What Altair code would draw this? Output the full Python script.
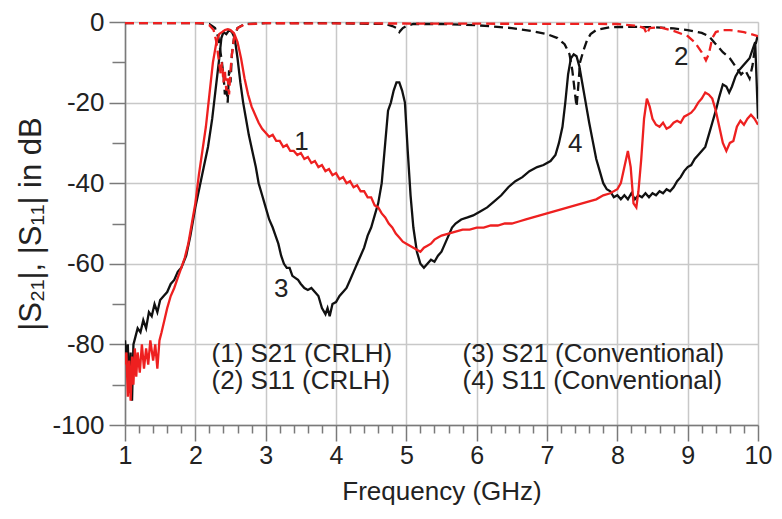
import altair as alt
import pandas as pd

# (3) S21 Conventional - black solid
f3 = [1.00, 1.02, 1.04, 1.06, 1.08, 1.10, 1.12, 1.15, 1.18, 1.22, 1.26, 1.30, 1.34, 1.38, 1.42, 1.46, 1.50,
      1.55, 1.60, 1.65, 1.70, 1.75, 1.80, 1.87, 1.93, 2.00, 2.06, 2.12, 2.18, 2.24, 2.30, 2.34, 2.37, 2.40,
      2.44, 2.48, 2.52, 2.56, 2.60, 2.64, 2.68, 2.72, 2.76, 2.81, 2.86, 2.90, 2.95, 3.00, 3.05, 3.10, 3.14,
      3.18, 3.22, 3.26, 3.30, 3.34, 3.38, 3.42, 3.46, 3.50, 3.55, 3.60, 3.65, 3.70, 3.75, 3.80, 3.85, 3.88,
      3.91, 3.95, 4.00, 4.05, 4.10, 4.15, 4.20, 4.25, 4.30, 4.35, 4.40, 4.45, 4.50, 4.55, 4.60, 4.65, 4.70,
      4.74, 4.78, 4.82, 4.86, 4.90, 4.94, 4.98, 5.02, 5.06, 5.10, 5.15, 5.20, 5.25, 5.30, 5.35, 5.40, 5.45,
      5.50, 5.55, 5.60, 5.65, 5.70, 5.78, 5.87, 5.95, 6.05, 6.15, 6.25, 6.35, 6.45, 6.55, 6.65, 6.75, 6.86,
      6.95, 7.05, 7.12, 7.17, 7.22, 7.26, 7.30, 7.34, 7.38, 7.42, 7.46, 7.50, 7.55, 7.60, 7.65, 7.70, 7.75,
      7.80, 7.85, 7.90, 7.95, 8.00, 8.05, 8.10, 8.15, 8.20, 8.25, 8.30, 8.35, 8.40, 8.45, 8.50, 8.55, 8.60,
      8.65, 8.70, 8.75, 8.80, 8.85, 8.90, 8.95, 9.00, 9.05, 9.10, 9.15, 9.20, 9.25, 9.30, 9.35, 9.40, 9.45,
      9.50, 9.55, 9.59, 9.63, 9.68, 9.73, 9.78, 9.83, 9.88, 9.92, 9.96, 10.00]
s3 = [-79, -84, -80, -92, -82, -94, -80, -78, -76, -77, -74, -76, -72, -73, -70, -72, -69,
      -68, -67, -65, -64, -62, -61, -58, -53, -46, -41, -36, -31, -24, -15, -9, -4, -2.5,
      -3, -2, -2.5, -4, -9, -15, -20, -24, -28, -32, -36, -40, -43, -46, -49, -51, -53,
      -55, -58, -60, -61, -61, -63, -63.5, -64, -65, -66, -66.5, -66, -67, -68, -71, -72.5, -71,
      -73, -70, -69.5, -68, -67, -66, -64, -62, -60, -58, -56, -53, -51, -48, -45, -40, -30,
      -22, -20, -17, -15, -15, -17, -20, -32, -43, -51, -57, -60, -61, -60, -59, -59.5, -58,
      -57, -55, -53, -51, -50, -49, -48.5, -48, -47, -46, -44.5, -43, -41, -39.5, -38.5, -37, -36,
      -35.5, -34.5, -33, -30, -26, -20, -13, -9, -8, -8.5, -11, -15, -20, -25, -29.5, -34, -37,
      -40, -41.5, -42, -43.5, -43, -44, -43, -44, -42.5, -44, -43, -43.5, -42.5, -43.5, -42.5, -43, -42,
      -42.5, -41.5, -42, -41, -39.5, -38.5, -37, -36, -35.5, -34, -33, -32, -31, -28, -25, -22, -18.5,
      -15.5, -16, -17.5, -16, -13.5, -12, -11, -10, -9, -7, -5, -24]

# (4) S11 Conventional - black dashed
f4 = [1.0, 2.0, 2.2, 2.28, 2.33, 2.37, 2.40, 2.42, 2.44, 2.46, 2.48, 2.50, 2.52, 2.55, 2.60, 2.7, 3.0,
      4.0, 4.7, 4.8, 4.86, 4.9, 4.95, 5.0, 5.1, 5.5, 6.0, 6.5, 6.8, 7.0, 7.15, 7.25, 7.32, 7.36, 7.40,
      7.42, 7.44, 7.47, 7.52, 7.57, 7.62, 7.7, 7.9, 8.2, 8.5, 8.8, 9.0, 9.2, 9.3, 9.4, 9.5, 9.6, 9.7,
      9.76, 9.82, 9.88, 9.92, 9.96, 10.0]
s4 = [-0.3, -0.3, -0.5, -1.5, -4, -9, -13, -18, -16, -20, -12, -15, -8, -4, -1.5, -0.5, -0.3,
      -0.3, -0.5, -1, -1.5, -2.5, -1.5, -1, -0.5, -0.5, -0.8, -1.5, -2.3, -3, -4, -5.5, -8, -12, -18,
      -21, -17, -10, -7, -4.5, -3, -2, -1.3, -1.2, -1.3, -1.6, -2, -2.7, -3.5, -5.5, -7.5, -9, -11.5,
      -13, -12, -14, -11, -6, -3]

# (1) S21 CRLH - red solid
f1 = [1.00, 1.02, 1.04, 1.06, 1.08, 1.10, 1.12, 1.14, 1.16, 1.18, 1.21, 1.24, 1.27, 1.30, 1.33, 1.36,
      1.40, 1.43, 1.46, 1.49, 1.52, 1.56, 1.60, 1.65, 1.70, 1.75, 1.80, 1.85, 1.90, 1.95, 2.00, 2.05,
      2.10, 2.15, 2.20, 2.25, 2.30, 2.34, 2.38, 2.42, 2.46, 2.50, 2.55, 2.60, 2.65, 2.70, 2.75, 2.80,
      2.85, 2.90, 2.95, 3.00, 3.05, 3.10, 3.15, 3.20, 3.25, 3.30, 3.35, 3.40, 3.45, 3.50, 3.55, 3.60,
      3.65, 3.70, 3.75, 3.80, 3.85, 3.90, 3.95, 4.00, 4.05, 4.10, 4.15, 4.20, 4.25, 4.30, 4.35, 4.40,
      4.45, 4.50, 4.55, 4.60, 4.65, 4.70, 4.75, 4.80, 4.85, 4.90, 4.95, 5.00, 5.05, 5.10, 5.15, 5.20,
      5.25, 5.30, 5.35, 5.40, 5.45, 5.50, 5.60, 5.70, 5.80, 5.90, 6.00, 6.10, 6.20, 6.30, 6.40, 6.50,
      6.60, 6.70, 6.80, 6.90, 7.00, 7.10, 7.20, 7.30, 7.40, 7.50, 7.60, 7.70, 7.80, 7.90, 8.00, 8.05,
      8.10, 8.15, 8.19, 8.23, 8.27, 8.30, 8.34, 8.38, 8.42, 8.46, 8.50, 8.55, 8.60, 8.65, 8.70, 8.75,
      8.80, 8.85, 8.90, 8.95, 9.00, 9.05, 9.10, 9.15, 9.20, 9.25, 9.30, 9.35, 9.40, 9.45, 9.50, 9.55,
      9.60, 9.65, 9.70, 9.75, 9.80, 9.85, 9.90, 9.95, 10.00]
s1 = [-85, -82, -93, -84, -94, -83, -90, -81, -88, -82, -87, -80, -86, -81, -85, -79,
      -84, -80, -86, -79, -77, -74, -71, -68, -66, -63.5, -61, -58.5, -55, -50, -45, -38,
      -32, -26, -18, -10, -5, -3, -2.5, -2, -1.8, -2, -2.8, -5, -9, -14, -18, -21,
      -23, -25, -26.5, -27.5, -28.5, -28, -29.5, -29.5, -31, -30.5, -32, -32, -33, -32.5, -34, -33.5,
      -35, -34.5, -36, -35.5, -37, -36.5, -38, -37.5, -39, -38.5, -40, -39.5, -41, -40.5, -42, -42,
      -43.5, -43.5, -45.5, -46, -47.5, -48.5, -50, -51, -52.5, -53.5, -54.5, -55, -55.5, -56, -56.5, -57,
      -56, -55.5, -55, -54, -53.5, -53, -52.5, -52, -51.5, -51.5, -51, -51, -50.5, -50.5, -50, -50,
      -49.5, -49, -48.5, -48, -47.5, -47, -46.5, -46, -45.5, -45, -44.5, -44, -43, -42.5, -41.5, -40,
      -36, -32, -36, -45, -46, -42, -34, -24, -19, -21, -24, -25.5, -26, -25, -26.5, -26,
      -25, -24.5, -25, -23.5, -23, -22.5, -21.5, -20, -19, -17.5, -18, -19, -22, -26, -30, -32,
      -30, -29.5, -26, -24.5, -25.5, -24, -23, -24, -25.5]

# (2) S11 CRLH - red dashed
f2 = [1.0, 2.1, 2.2, 2.26, 2.30, 2.33, 2.36, 2.38, 2.40, 2.42, 2.44, 2.46, 2.48, 2.50, 2.52, 2.55, 2.6,
      2.7, 3.0, 8.0, 8.3, 8.38, 8.42, 8.46, 8.6, 8.8, 9.0, 9.1, 9.2, 9.26, 9.30, 9.35, 9.40, 9.5, 9.6,
      9.8, 10.0]
s2 = [-0.3, -0.3, -0.8, -2, -5, -9, -13, -10, -15, -12, -17, -14, -18, -12, -8, -4, -1.5,
      -0.6, -0.3, -0.5, -1, -1.5, -3, -1.5, -1.3, -2.2, -3.5, -5, -7.5, -9.5, -8, -4, -2.5, -2, -2,
      -2.5, -3.5]

# annotations
num_labels = ["1", "2", "3", "4"]
num_x = [3.51, 8.91, 3.22, 7.40]
num_y = [-29.7, -8.7, -66.3, -30.2]

legend_text = ["(1) S21 (CRLH)", "(2) S11 (CRLH)", "(3) S21 (Conventional)", "(4) S11 (Conventional)"]
legend_x = [2.23, 2.23, 5.80, 5.80]
legend_y = [-82.4, -89.1, -82.4, -89.1]

x_major = [1, 2, 3, 4, 5, 6, 7, 8, 9, 10]
x_minor = [round(1 + 0.2 * i, 1) for i in range(46) if i % 5 != 0]
y_major = [-100, -80, -60, -40, -20, 0]
y_minor = [-90, -70, -50, -30, -10]

FONT = "Liberation Sans"
AX = "#7a7a7a"
xscale = alt.Scale(domain=[1, 10], nice=False, zero=False)
yscale = alt.Scale(domain=[-100, 0], nice=False, zero=False)

x_axis = alt.Axis(
    orient="bottom", values=x_major, labelExpr="'' + datum.value", tickSize=16,
    grid=True, gridColor="#c8c8c8", gridWidth=1.5,
    domainColor=AX, domainWidth=1.5, tickColor=AX, tickWidth=1.5,
    labelFont=FONT, labelFontSize=25, labelColor="#222", labelPadding=2, labelFlush=False,
    title="Frequency (GHz)", titleFont=FONT, titleFontSize=26, titleFontWeight="normal",
    titleColor="#222", titlePadding=10,
)
y_axis = alt.Axis(
    orient="left", values=y_major, labelExpr="'' + datum.value", tickSize=16,
    grid=True, gridColor="#c8c8c8", gridWidth=1.5,
    domainColor=AX, domainWidth=1.5, tickColor=AX, tickWidth=1.5,
    labelFont=FONT, labelFontSize=26, labelColor="#222", labelPadding=5, labelFlush=False,
    title="|S₂₁|, |S₁₁| in dB", titleFont=FONT, titleFontSize=31, titleFontWeight="normal",
    titleColor="#222", titlePadding=4,
)
x_axis_minor = alt.Axis(
    orient="bottom", values=x_minor, tickSize=8, labels=False, grid=False, domain=False,
    tickColor=AX, tickWidth=1.5, title=None,
)
y_axis_minor = alt.Axis(
    orient="left", values=y_minor, tickSize=13, labels=False, grid=False, domain=False,
    tickColor=AX, tickWidth=1.5, title=None,
)


def line(f, s, color, dash=None):
    df = pd.DataFrame({"f": f, "s": s})
    kw = dict(color=color, strokeWidth=2.3, clip=True, interpolate="linear")
    if dash:
        kw["strokeDash"] = dash
    return alt.Chart(df).mark_line(**kw).encode(
        x=alt.X("f:Q", scale=xscale, axis=None),
        y=alt.Y("s:Q", scale=yscale, axis=None),
    )


l3 = line(f3, s3, "#111111")
l4 = line(f4, s4, "#111111", [9, 5])
l1 = line(f1, s1, "#ee2020")
l2 = line(f2, s2, "#ee2020", [9, 5])

ann = alt.Chart(pd.DataFrame({"t": num_labels, "x": num_x, "y": num_y})).mark_text(
    font=FONT, fontSize=26, color="#222", align="center", baseline="middle"
).encode(
    x=alt.X("x:Q", scale=xscale, axis=x_axis),
    y=alt.Y("y:Q", scale=yscale, axis=y_axis),
    text="t:N",
)

leg = alt.Chart(pd.DataFrame({"t": legend_text, "x": legend_x, "y": legend_y})).mark_text(
    font=FONT, fontSize=26, color="#222", align="left", baseline="middle"
).encode(
    x=alt.X("x:Q", scale=xscale, axis=x_axis_minor),
    y=alt.Y("y:Q", scale=yscale, axis=y_axis_minor),
    text="t:N",
)

chart = alt.layer(ann, leg, l3, l4, l1, l2).resolve_axis(
    x="independent", y="independent"
).properties(
    width=633, height=403,
    autosize=alt.AutoSizeParams(type="none"),
    padding={"left": 117, "top": 14, "right": 16, "bottom": 86},
).configure_view(stroke="#8a8a8a", strokeWidth=1.5).configure(background="white")

chart.save("out.html", embed_options={"renderer": "svg", "actions": False})
